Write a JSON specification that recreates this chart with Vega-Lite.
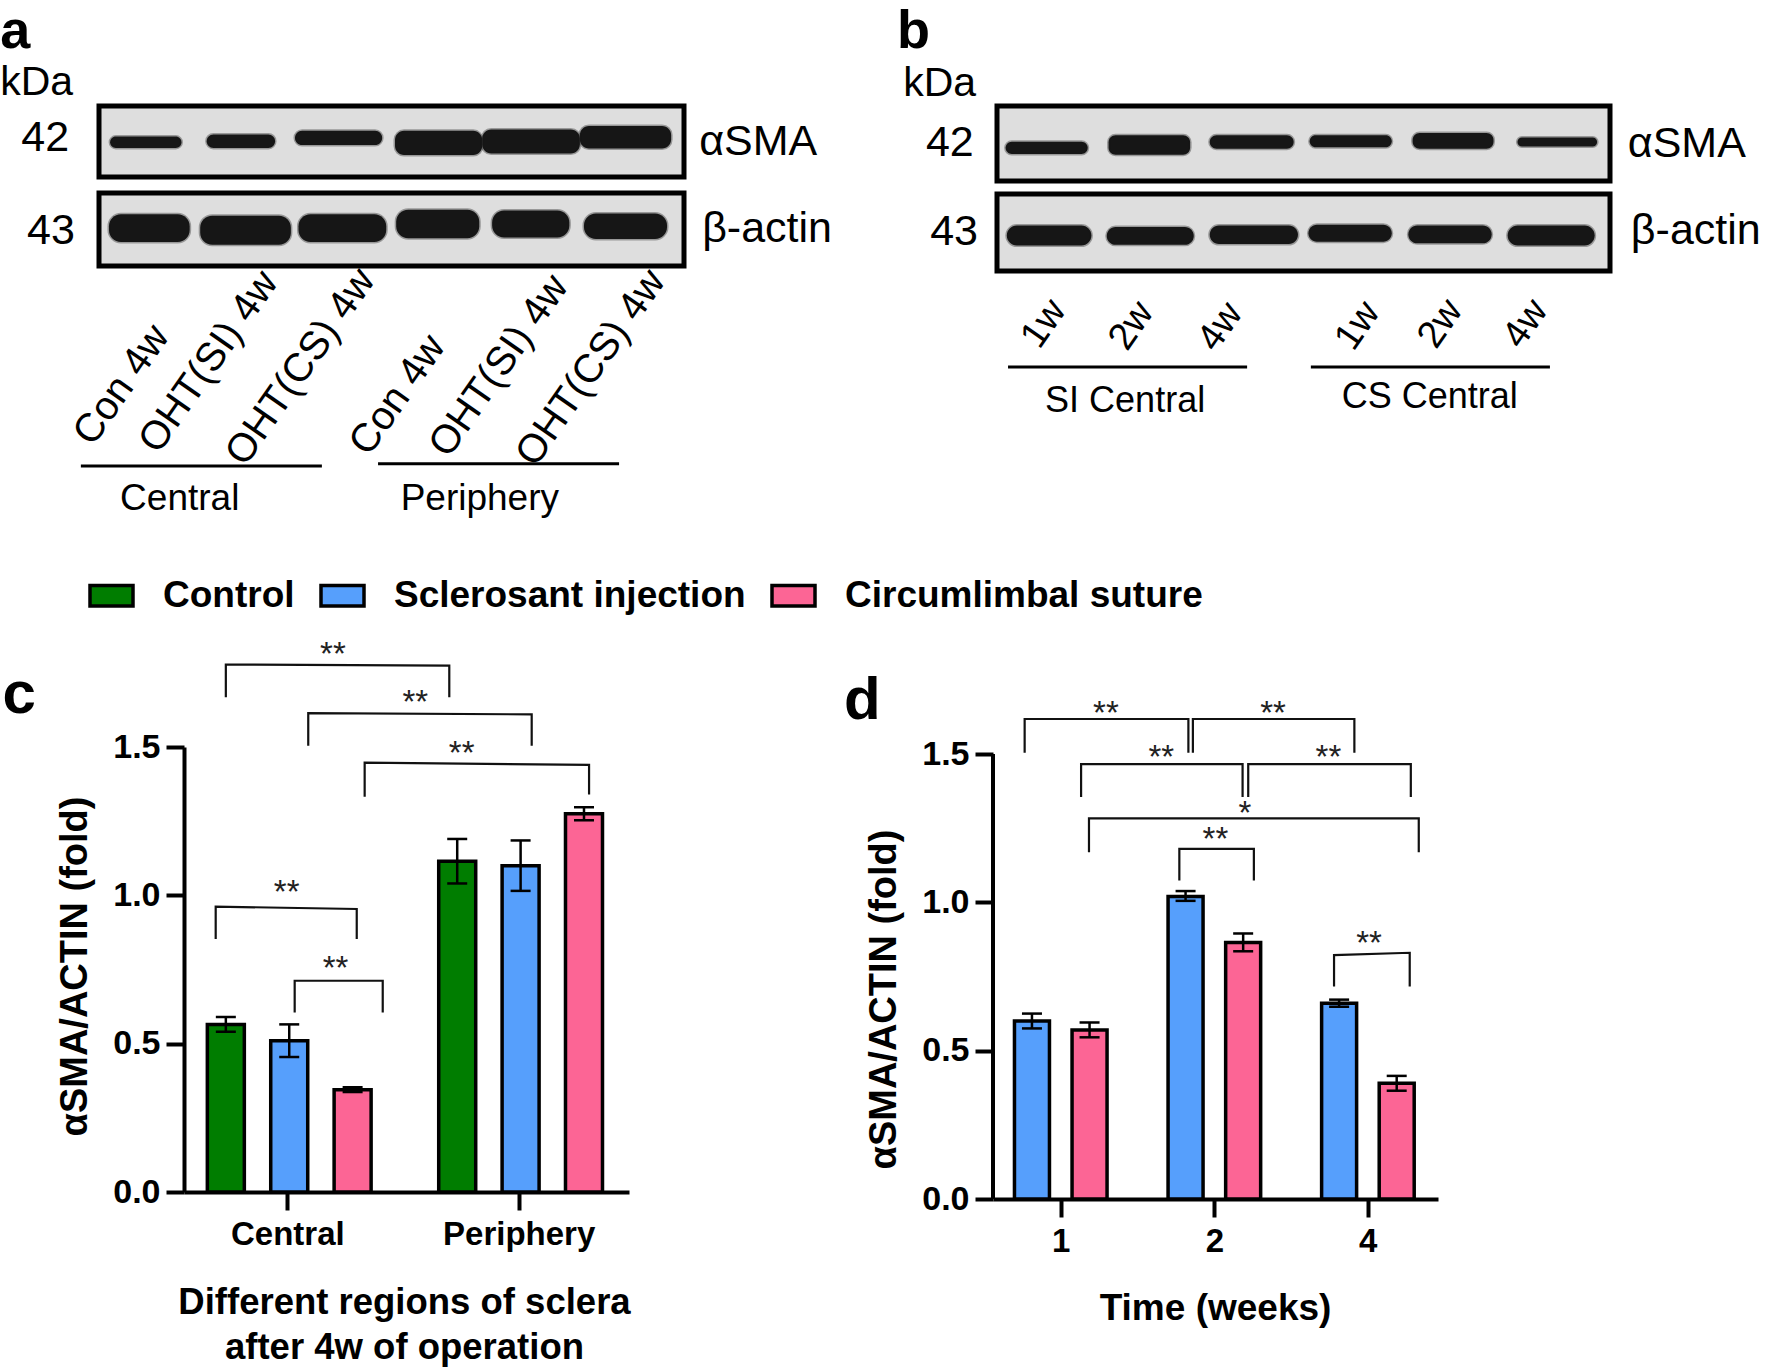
{"$schema":"https://vega.github.io/schema/vega-lite/v6.json","background":"white","autosize":{"type":"none"},"padding":{"left":99,"top":106,"right":1671,"bottom":1263},"bounds":"flush","spacing":641,
"config":{"view":{"stroke":null},"font":"Liberation Sans","axis":{"grid":false,"domainColor":"black","tickColor":"black","domainWidth":4,"tickWidth":4,"tickSize":18,"labelColor":"black","titleColor":"black","labelFont":"Liberation Sans","titleFont":"Liberation Sans","labelFontWeight":"bold","titleFontWeight":"bold","labelFontSize":34,"titleFontSize":34}},
"datasets":{
"bands":[
{"strip":"a1","lane":"Con 4w Central","from":1.9,"to":14.1,"top":43,"bottom":59},
{"strip":"a1","lane":"OHT(SI) 4w Central","from":18.4,"to":30.1,"top":40,"bottom":59},
{"strip":"a1","lane":"OHT(CS) 4w Central","from":33.5,"to":48.4,"top":35,"bottom":55},
{"strip":"a1","lane":"Con 4w Periphery","from":50.6,"to":65.5,"top":35,"bottom":69},
{"strip":"a1","lane":"OHT(SI) 4w Periphery","from":65.5,"to":82.2,"top":33,"bottom":67},
{"strip":"a1","lane":"OHT(CS) 4w Periphery","from":82.2,"to":97.8,"top":28,"bottom":60},
{"strip":"a2","lane":"Con 4w Central","from":1.7,"to":15.5,"top":29,"bottom":67},
{"strip":"a2","lane":"OHT(SI) 4w Central","from":17.3,"to":32.8,"top":31,"bottom":71},
{"strip":"a2","lane":"OHT(CS) 4w Central","from":34.1,"to":49.1,"top":29,"bottom":67},
{"strip":"a2","lane":"Con 4w Periphery","from":50.8,"to":65,"top":23,"bottom":62},
{"strip":"a2","lane":"OHT(SI) 4w Periphery","from":67.2,"to":80.4,"top":24,"bottom":61},
{"strip":"a2","lane":"OHT(CS) 4w Periphery","from":82.9,"to":97.1,"top":28,"bottom":63},
{"strip":"b1","lane":"SI 1w","from":1.4,"to":14.8,"top":47.5,"bottom":64},
{"strip":"b1","lane":"SI 2w","from":18.2,"to":31.5,"top":39,"bottom":65},
{"strip":"b1","lane":"SI 4w","from":34.7,"to":48.4,"top":39,"bottom":57},
{"strip":"b1","lane":"CS 1w","from":51,"to":64.4,"top":39,"bottom":55},
{"strip":"b1","lane":"CS 2w","from":67.8,"to":81,"top":36,"bottom":57},
{"strip":"b1","lane":"CS 4w","from":84.9,"to":97.9,"top":42,"bottom":54},
{"strip":"b2","lane":"SI 1w","from":1.6,"to":15.4,"top":41,"bottom":67},
{"strip":"b2","lane":"SI 2w","from":17.9,"to":32.1,"top":43,"bottom":66},
{"strip":"b2","lane":"SI 4w","from":34.7,"to":49.1,"top":41,"bottom":65},
{"strip":"b2","lane":"CS 1w","from":50.8,"to":64.4,"top":40,"bottom":62},
{"strip":"b2","lane":"CS 2w","from":67.1,"to":80.7,"top":41,"bottom":64},
{"strip":"b2","lane":"CS 4w","from":83.3,"to":97.5,"top":41,"bottom":67}
],
"notes":[
{"strip":"a1","kind":"letter","label":"a","x":-16.9,"y":-81.7},
{"strip":"a1","kind":"kda","label":"kDa","x":-16.9,"y":-15.5},
{"strip":"a1","kind":"mw","label":"42","x":-9.2,"y":45},
{"strip":"a1","kind":"protein","label":"αSMA","x":102.6,"y":50.7},
{"strip":"a2","kind":"mw","label":"43","x":-8.2,"y":52},
{"strip":"a2","kind":"protein","label":"β-actin","x":103.1,"y":49.3},
{"strip":"a2","kind":"lane","label":"Con 4w","x":3.9,"y":263},
{"strip":"a2","kind":"lane","label":"OHT(SI) 4w","x":18.8,"y":231.5},
{"strip":"a2","kind":"lane","label":"OHT(CS) 4w","x":34.5,"y":238.4},
{"strip":"a2","kind":"lane","label":"Con 4w","x":51.1,"y":276.7},
{"strip":"a2","kind":"lane","label":"OHT(SI) 4w","x":68.4,"y":237},
{"strip":"a2","kind":"lane","label":"OHT(CS) 4w","x":84.1,"y":239.7},
{"strip":"a2","kind":"group","label":"Central","x":13.8,"y":419},
{"strip":"a2","kind":"group","label":"Periphery","x":65.1,"y":419},
{"strip":"b1","kind":"letter","label":"b","x":-16.3,"y":-77.3},
{"strip":"b1","kind":"kda","label":"kDa","x":-15.3,"y":-13.3},
{"strip":"b1","kind":"mw","label":"42","x":-7.7,"y":49.3},
{"strip":"b1","kind":"protein","label":"αSMA","x":102.9,"y":50.7},
{"strip":"b2","kind":"mw","label":"43","x":-7,"y":49.4},
{"strip":"b2","kind":"protein","label":"β-actin","x":103.4,"y":48},
{"strip":"b2","kind":"lane","label":"1w","x":7.7,"y":168.8},
{"strip":"b2","kind":"lane","label":"2w","x":22,"y":171.4},
{"strip":"b2","kind":"lane","label":"4w","x":36.5,"y":172.7},
{"strip":"b2","kind":"lane","label":"1w","x":58.9,"y":171.4},
{"strip":"b2","kind":"lane","label":"2w","x":72.4,"y":168.8},
{"strip":"b2","kind":"lane","label":"4w","x":86.3,"y":168.8},
{"strip":"b2","kind":"group","label":"SI Central","x":20.9,"y":268.8},
{"strip":"b2","kind":"group","label":"CS Central","x":70.6,"y":263.6}
],
"underlines":[
{"strip":"a2","from":-3.1,"to":38.1,"y":374},
{"strip":"a2","from":47.7,"to":88.9,"y":371},
{"strip":"b2","from":1.8,"to":40.8,"y":224.7},
{"strip":"b2","from":51.2,"to":90.2,"y":224.7}
],
"barsC":[
{"region":"Central","group":"Control","slot":1,"value":0.565,"lo":0.54,"hi":0.59},
{"region":"Central","group":"Sclerosant injection","slot":2,"value":0.51,"lo":0.455,"hi":0.565},
{"region":"Central","group":"Circumlimbal suture","slot":3,"value":0.345,"lo":0.337,"hi":0.353},
{"region":"Periphery","group":"Control","slot":4.65,"value":1.115,"lo":1.04,"hi":1.19},
{"region":"Periphery","group":"Sclerosant injection","slot":5.65,"value":1.1,"lo":1.015,"hi":1.185},
{"region":"Periphery","group":"Circumlimbal suture","slot":6.65,"value":1.275,"lo":1.253,"hi":1.297}
],
"barsD":[
{"week":"1","group":"Sclerosant injection","slot":1,"value":0.6,"lo":0.575,"hi":0.625},
{"week":"1","group":"Circumlimbal suture","slot":2,"value":0.57,"lo":0.545,"hi":0.595},
{"week":"2","group":"Sclerosant injection","slot":3.667,"value":1.02,"lo":1.005,"hi":1.038},
{"week":"2","group":"Circumlimbal suture","slot":4.667,"value":0.865,"lo":0.835,"hi":0.895},
{"week":"4","group":"Sclerosant injection","slot":6.333,"value":0.66,"lo":0.648,"hi":0.672},
{"week":"4","group":"Circumlimbal suture","slot":7.333,"value":0.39,"lo":0.365,"hi":0.415}
],
"axisLineD":[{"slot":0.3235,"from":0,"to":1.5}],
"bracketsC":[
{"id":"c1","step":1,"slot":1,"val":1.668},{"id":"c1","step":2,"slot":1,"val":1.778},{"id":"c1","step":3,"slot":4.525,"val":1.774},{"id":"c1","step":4,"slot":4.525,"val":1.668},
{"id":"c2","step":1,"slot":2.3,"val":1.504},{"id":"c2","step":2,"slot":2.3,"val":1.614},{"id":"c2","step":3,"slot":5.825,"val":1.61},{"id":"c2","step":4,"slot":5.825,"val":1.504},
{"id":"c3","step":1,"slot":3.19,"val":1.332},{"id":"c3","step":2,"slot":3.19,"val":1.447},{"id":"c3","step":3,"slot":6.73,"val":1.44},{"id":"c3","step":4,"slot":6.73,"val":1.34},
{"id":"c4","step":1,"slot":0.84,"val":0.853},{"id":"c4","step":2,"slot":0.84,"val":0.962},{"id":"c4","step":3,"slot":3.065,"val":0.954},{"id":"c4","step":4,"slot":3.065,"val":0.853},
{"id":"c5","step":1,"slot":2.086,"val":0.605},{"id":"c5","step":2,"slot":2.086,"val":0.712},{"id":"c5","step":3,"slot":3.475,"val":0.712},{"id":"c5","step":4,"slot":3.475,"val":0.605}
],
"starsC":[
{"label":"**","slot":2.69,"val":1.83},{"label":"**","slot":3.99,"val":1.667},{"label":"**","slot":4.72,"val":1.496},{"label":"**","slot":1.96,"val":1.028},{"label":"**","slot":2.73,"val":0.773}
],
"bracketsD":[
{"id":"A","step":1,"slot":0.873,"val":1.504},{"id":"A","step":2,"slot":0.873,"val":1.618},{"id":"A","step":3,"slot":3.716,"val":1.618},{"id":"A","step":4,"slot":3.716,"val":1.504},
{"id":"B","step":1,"slot":3.794,"val":1.504},{"id":"B","step":2,"slot":3.794,"val":1.618},{"id":"B","step":3,"slot":6.598,"val":1.618},{"id":"B","step":4,"slot":6.598,"val":1.504},
{"id":"C","step":1,"slot":1.853,"val":1.355},{"id":"C","step":2,"slot":1.853,"val":1.466},{"id":"C","step":3,"slot":4.657,"val":1.466},{"id":"C","step":4,"slot":4.657,"val":1.355},
{"id":"D","step":1,"slot":4.755,"val":1.355},{"id":"D","step":2,"slot":4.755,"val":1.466},{"id":"D","step":3,"slot":7.578,"val":1.466},{"id":"D","step":4,"slot":7.578,"val":1.355},
{"id":"E","step":1,"slot":1.99,"val":1.169},{"id":"E","step":2,"slot":1.99,"val":1.283},{"id":"E","step":3,"slot":7.716,"val":1.283},{"id":"E","step":4,"slot":7.716,"val":1.169},
{"id":"F","step":1,"slot":3.559,"val":1.074},{"id":"F","step":2,"slot":3.559,"val":1.18},{"id":"F","step":3,"slot":4.853,"val":1.18},{"id":"F","step":4,"slot":4.853,"val":1.074},
{"id":"G","step":1,"slot":6.245,"val":0.716},{"id":"G","step":2,"slot":6.245,"val":0.822},{"id":"G","step":3,"slot":7.559,"val":0.83},{"id":"G","step":4,"slot":7.559,"val":0.716}
],
"starsD":[
{"label":"**","slot":2.284,"val":1.656},{"label":"**","slot":5.186,"val":1.656},{"label":"**","slot":3.245,"val":1.508},{"label":"**","slot":6.147,"val":1.508},{"label":"*","slot":4.696,"val":1.317},{"label":"**","slot":4.186,"val":1.23},{"label":"**","slot":6.853,"val":0.879}
],
"lettersCD":[
{"panel":"c","label":"c","slot":-2.525,"val":1.614},
{"panel":"d","label":"d","slot":-2.265,"val":1.618}
]
},
"vconcat":[
{"bounds":"flush","spacing":898,"hconcat":[
{"bounds":"flush","spacing":16,"vconcat":[
{"width":585,"height":71,"view":{"fill":"#dedede","stroke":"black","strokeWidth":5},
"encoding":{"x":{"field":"x","type":"quantitative","axis":null,"scale":{"domain":[0,100],"nice":false,"zero":false}},"y":{"field":"y","type":"quantitative","axis":null,"scale":{"domain":[100,0],"nice":false,"zero":false}}},
"layer":[
{"data":{"name":"bands"},"transform":[{"filter":"datum.strip=='a1'"}],"mark":{"type":"rect","fill":"#161616","cornerRadius":9,"stroke":"#161616","strokeWidth":3,"strokeOpacity":0.35},"encoding":{"x":{"field":"from","type":"quantitative"},"x2":{"field":"to"},"y":{"field":"top","type":"quantitative"},"y2":{"field":"bottom"}}},
{"data":{"name":"notes"},"transform":[{"filter":"datum.strip=='a1'&&datum.kind=='letter'"}],"mark":{"type":"text","align":"left","baseline":"alphabetic","fontSize":54,"fontWeight":"bold","font":"Liberation Sans","fill":"black"},"encoding":{"text":{"field":"label"}}},
{"data":{"name":"notes"},"transform":[{"filter":"datum.strip=='a1'&&datum.kind=='kda'"}],"mark":{"type":"text","align":"left","baseline":"alphabetic","fontSize":41,"font":"Liberation Sans","fill":"black"},"encoding":{"text":{"field":"label"}}},
{"data":{"name":"notes"},"transform":[{"filter":"datum.strip=='a1'&&datum.kind=='mw'"}],"mark":{"type":"text","align":"center","baseline":"middle","fontSize":43,"font":"Liberation Sans","fill":"black"},"encoding":{"text":{"field":"label"}}},
{"data":{"name":"notes"},"transform":[{"filter":"datum.strip=='a1'&&datum.kind=='protein'"}],"mark":{"type":"text","align":"left","baseline":"middle","fontSize":43,"font":"Liberation Sans","fill":"black"},"encoding":{"text":{"field":"label"}}}
]},
{"width":585,"height":73,"view":{"fill":"#dedede","stroke":"black","strokeWidth":5},
"encoding":{"x":{"field":"x","type":"quantitative","axis":null,"scale":{"domain":[0,100],"nice":false,"zero":false}},"y":{"field":"y","type":"quantitative","axis":null,"scale":{"domain":[100,0],"nice":false,"zero":false}}},
"layer":[
{"data":{"name":"bands"},"transform":[{"filter":"datum.strip=='a2'"}],"mark":{"type":"rect","fill":"#161616","cornerRadius":12,"stroke":"#161616","strokeWidth":3,"strokeOpacity":0.35},"encoding":{"x":{"field":"from","type":"quantitative"},"x2":{"field":"to"},"y":{"field":"top","type":"quantitative"},"y2":{"field":"bottom"}}},
{"data":{"name":"underlines"},"transform":[{"filter":"datum.strip=='a2'"}],"mark":{"type":"rule","stroke":"black","strokeWidth":3},"encoding":{"x":{"field":"from","type":"quantitative"},"x2":{"field":"to"},"y":{"field":"y","type":"quantitative"}}},
{"data":{"name":"notes"},"transform":[{"filter":"datum.strip=='a2'&&datum.kind=='mw'"}],"mark":{"type":"text","align":"center","baseline":"middle","fontSize":43,"font":"Liberation Sans","fill":"black"},"encoding":{"text":{"field":"label"}}},
{"data":{"name":"notes"},"transform":[{"filter":"datum.strip=='a2'&&datum.kind=='protein'"}],"mark":{"type":"text","align":"left","baseline":"middle","fontSize":43,"font":"Liberation Sans","fill":"black"},"encoding":{"text":{"field":"label"}}},
{"data":{"name":"notes"},"transform":[{"filter":"datum.strip=='a2'&&datum.kind=='lane'"}],"mark":{"type":"text","align":"center","baseline":"middle","angle":-55,"fontSize":40,"font":"Liberation Sans","fill":"black"},"encoding":{"text":{"field":"label"}}},
{"data":{"name":"notes"},"transform":[{"filter":"datum.strip=='a2'&&datum.kind=='group'"}],"mark":{"type":"text","align":"center","baseline":"middle","fontSize":37,"font":"Liberation Sans","fill":"black"},"encoding":{"text":{"field":"label"}}}
]}
]},
{"bounds":"flush","spacing":13,"vconcat":[
{"width":613,"height":75,"view":{"fill":"#dedede","stroke":"black","strokeWidth":5},
"encoding":{"x":{"field":"x","type":"quantitative","axis":null,"scale":{"domain":[0,100],"nice":false,"zero":false}},"y":{"field":"y","type":"quantitative","axis":null,"scale":{"domain":[100,0],"nice":false,"zero":false}}},
"layer":[
{"data":{"name":"bands"},"transform":[{"filter":"datum.strip=='b1'"}],"mark":{"type":"rect","fill":"#161616","cornerRadius":7,"stroke":"#161616","strokeWidth":3,"strokeOpacity":0.35},"encoding":{"x":{"field":"from","type":"quantitative"},"x2":{"field":"to"},"y":{"field":"top","type":"quantitative"},"y2":{"field":"bottom"}}},
{"data":{"name":"notes"},"transform":[{"filter":"datum.strip=='b1'&&datum.kind=='letter'"}],"mark":{"type":"text","align":"left","baseline":"alphabetic","fontSize":54,"fontWeight":"bold","font":"Liberation Sans","fill":"black"},"encoding":{"text":{"field":"label"}}},
{"data":{"name":"notes"},"transform":[{"filter":"datum.strip=='b1'&&datum.kind=='kda'"}],"mark":{"type":"text","align":"left","baseline":"alphabetic","fontSize":41,"font":"Liberation Sans","fill":"black"},"encoding":{"text":{"field":"label"}}},
{"data":{"name":"notes"},"transform":[{"filter":"datum.strip=='b1'&&datum.kind=='mw'"}],"mark":{"type":"text","align":"center","baseline":"middle","fontSize":43,"font":"Liberation Sans","fill":"black"},"encoding":{"text":{"field":"label"}}},
{"data":{"name":"notes"},"transform":[{"filter":"datum.strip=='b1'&&datum.kind=='protein'"}],"mark":{"type":"text","align":"left","baseline":"middle","fontSize":43,"font":"Liberation Sans","fill":"black"},"encoding":{"text":{"field":"label"}}}
]},
{"width":613,"height":77,"view":{"fill":"#dedede","stroke":"black","strokeWidth":5},
"encoding":{"x":{"field":"x","type":"quantitative","axis":null,"scale":{"domain":[0,100],"nice":false,"zero":false}},"y":{"field":"y","type":"quantitative","axis":null,"scale":{"domain":[100,0],"nice":false,"zero":false}}},
"layer":[
{"data":{"name":"bands"},"transform":[{"filter":"datum.strip=='b2'"}],"mark":{"type":"rect","fill":"#161616","cornerRadius":12,"stroke":"#161616","strokeWidth":3,"strokeOpacity":0.35},"encoding":{"x":{"field":"from","type":"quantitative"},"x2":{"field":"to"},"y":{"field":"top","type":"quantitative"},"y2":{"field":"bottom"}}},
{"data":{"name":"underlines"},"transform":[{"filter":"datum.strip=='b2'"}],"mark":{"type":"rule","stroke":"black","strokeWidth":3},"encoding":{"x":{"field":"from","type":"quantitative"},"x2":{"field":"to"},"y":{"field":"y","type":"quantitative"}}},
{"data":{"name":"notes"},"transform":[{"filter":"datum.strip=='b2'&&datum.kind=='mw'"}],"mark":{"type":"text","align":"center","baseline":"middle","fontSize":43,"font":"Liberation Sans","fill":"black"},"encoding":{"text":{"field":"label"}}},
{"data":{"name":"notes"},"transform":[{"filter":"datum.strip=='b2'&&datum.kind=='protein'"}],"mark":{"type":"text","align":"left","baseline":"middle","fontSize":43,"font":"Liberation Sans","fill":"black"},"encoding":{"text":{"field":"label"}}},
{"data":{"name":"notes"},"transform":[{"filter":"datum.strip=='b2'&&datum.kind=='lane'"}],"mark":{"type":"text","align":"center","baseline":"middle","angle":-55,"fontSize":38,"font":"Liberation Sans","fill":"black"},"encoding":{"text":{"field":"label"}}},
{"data":{"name":"notes"},"transform":[{"filter":"datum.strip=='b2'&&datum.kind=='group'"}],"mark":{"type":"text","align":"center","baseline":"middle","fontSize":36,"font":"Liberation Sans","fill":"black"},"encoding":{"text":{"field":"label"}}}
]}
]}
]},
{"bounds":"flush","spacing":0,"hconcat":[
{"width":85,"height":1,"data":{"values":[{}]},"mark":{"type":"rule","opacity":0},"encoding":{}},
{"bounds":"flush","spacing":364,"hconcat":[
{"width":445,"height":445,
"encoding":{"x":{"field":"slot","type":"quantitative","scale":{"domain":[0.34,7.36],"nice":false,"zero":false,"padding":0}},"y":{"field":"val","type":"quantitative","scale":{"domain":[0,1.5],"nice":false}}},
"layer":[
{"data":{"name":"barsC"},"mark":{"type":"bar","orient":"vertical","size":37,"stroke":"black","strokeWidth":3.5},
"encoding":{"x":{"field":"slot","type":"quantitative","title":["Different regions of sclera","after 4w of operation"],
"axis":{"values":[1.97,5.62],"labelExpr":"datum.value<3?'Central':'Periphery'","labelFontSize":33,"labelPadding":8,"titleFontSize":36.5,"titlePadding":33,"titleLineHeight":45,"titleX":220}},
"y":{"field":"value","type":"quantitative","stack":null,"title":"αSMA/ACTIN (fold)","axis":{"values":[0,0.5,1,1.5],"format":".1f","labelPadding":6,"titleFontSize":38,"titlePadding":18,"titleY":219}},
"color":{"field":"group","type":"nominal","scale":{"domain":["Control","Sclerosant injection","Circumlimbal suture"],"range":["#007d00","#569ffc","#fc6595"]},
"legend":{"orient":"none","legendX":-11,"legendY":466,"direction":"horizontal","title":null,"padding":0,"symbolType":"M-1,-0.48H1V0.48H-1Z","symbolSize":1849,"symbolStrokeColor":"black","symbolStrokeWidth":3.5,"symbolOpacity":1,"labelFont":"Liberation Sans","labelFontWeight":"bold","labelFontSize":37,"labelLimit":600,"labelColor":"black","labelOffset":28,"columnPadding":19}}}},
{"data":{"name":"barsC"},"mark":{"type":"rule","stroke":"black","strokeWidth":2.5},"encoding":{"y":{"field":"lo","type":"quantitative"},"y2":{"field":"hi"}}},
{"data":{"name":"barsC"},"mark":{"type":"tick","orient":"horizontal","size":20,"thickness":2.5,"color":"black","opacity":1},"encoding":{"y":{"field":"lo","type":"quantitative"}}},
{"data":{"name":"barsC"},"mark":{"type":"tick","orient":"horizontal","size":20,"thickness":2.5,"color":"black","opacity":1},"encoding":{"y":{"field":"hi","type":"quantitative"}}},
{"data":{"name":"bracketsC"},"mark":{"type":"line","stroke":"#111","strokeWidth":2.2},"encoding":{"detail":{"field":"id"},"order":{"field":"step","type":"quantitative"}}},
{"data":{"name":"starsC"},"mark":{"type":"text","fontSize":33,"font":"Liberation Sans","fill":"#222","baseline":"middle","dy":6},"encoding":{"text":{"field":"label"}}},
{"data":{"name":"lettersCD"},"transform":[{"filter":"datum.panel=='c'"}],"mark":{"type":"text","align":"left","baseline":"alphabetic","fontSize":60,"fontWeight":"bold","font":"Liberation Sans","fill":"black"},"encoding":{"text":{"field":"label"}}}
]},
{"width":445,"height":452,
"encoding":{"x":{"field":"slot","type":"quantitative","scale":{"domain":[0.3235,8.05],"nice":false,"zero":false,"padding":0}},"y":{"field":"val","type":"quantitative","scale":{"domain":[0,1.5236],"nice":false}}},
"layer":[
{"data":{"name":"barsD"},"mark":{"type":"bar","orient":"vertical","size":35,"stroke":"black","strokeWidth":3.5},
"encoding":{"x":{"field":"slot","type":"quantitative","title":"Time (weeks)",
"axis":{"values":[1.5,4.167,6.83],"labelExpr":"datum.value<2?'1':datum.value<5?'2':'4'","labelFontSize":33,"labelPadding":8,"titleFontSize":37,"titlePadding":32,"titleX":222}},
"y":{"field":"value","type":"quantitative","stack":null,"title":"αSMA/ACTIN (fold)","axis":{"values":[0,0.5,1,1.5],"format":".1f","domain":false,"labelPadding":6,"titleFontSize":38,"titlePadding":18,"titleY":252}},
"color":{"field":"group","type":"nominal","legend":null,"scale":{"domain":["Sclerosant injection","Circumlimbal suture"],"range":["#569ffc","#fc6595"]}}}},
{"data":{"name":"axisLineD"},"mark":{"type":"rule","stroke":"black","strokeWidth":4},"encoding":{"y":{"field":"from","type":"quantitative"},"y2":{"field":"to"}}},
{"data":{"name":"barsD"},"mark":{"type":"rule","stroke":"black","strokeWidth":2.5},"encoding":{"y":{"field":"lo","type":"quantitative"},"y2":{"field":"hi"}}},
{"data":{"name":"barsD"},"mark":{"type":"tick","orient":"horizontal","size":20,"thickness":2.5,"color":"black","opacity":1},"encoding":{"y":{"field":"lo","type":"quantitative"}}},
{"data":{"name":"barsD"},"mark":{"type":"tick","orient":"horizontal","size":20,"thickness":2.5,"color":"black","opacity":1},"encoding":{"y":{"field":"hi","type":"quantitative"}}},
{"data":{"name":"bracketsD"},"mark":{"type":"line","stroke":"#111","strokeWidth":2.2},"encoding":{"detail":{"field":"id"},"order":{"field":"step","type":"quantitative"}}},
{"data":{"name":"starsD"},"mark":{"type":"text","fontSize":33,"font":"Liberation Sans","fill":"#222","baseline":"middle","dy":6},"encoding":{"text":{"field":"label"}}},
{"data":{"name":"lettersCD"},"transform":[{"filter":"datum.panel=='d'"}],"mark":{"type":"text","align":"left","baseline":"alphabetic","fontSize":60,"fontWeight":"bold","font":"Liberation Sans","fill":"black"},"encoding":{"text":{"field":"label"}}}
]}
]}
]}
]}
